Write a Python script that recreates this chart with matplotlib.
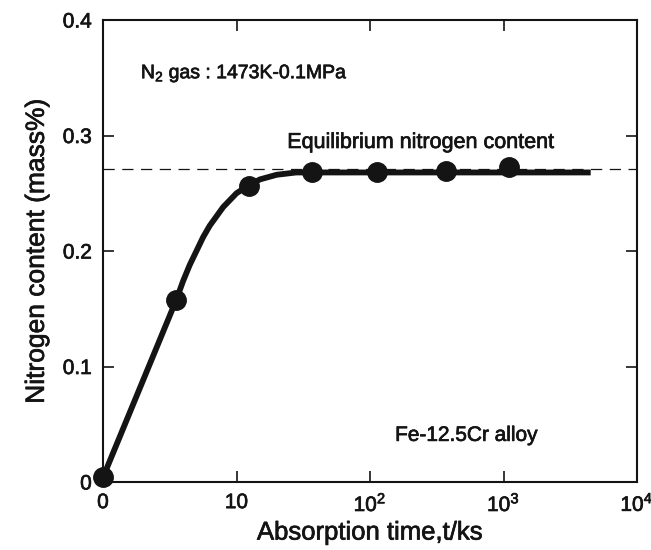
import numpy as np
import matplotlib
matplotlib.use("Agg")
import matplotlib.pyplot as plt
import matplotlib.patheffects as pe
from matplotlib.ticker import FixedLocator, FixedFormatter

plt.rcParams['font.family'] = ['Liberation Sans', 'DejaVu Sans']
plt.rcParams['mathtext.fontset'] = 'custom'
plt.rcParams['mathtext.rm'] = 'Liberation Sans'
plt.rcParams['mathtext.it'] = 'Liberation Sans'

# Measured points (absorption time in ks, nitrogen mass%)
time_pts = [0, 5.5, 12.4, 36.8, 113, 370, 1100]
n_pts = [0.004, 0.158, 0.256, 0.268, 0.268, 0.269, 0.273]

# Drawn fitted curve
curve_t = [0, 1, 2, 3, 4, 5, 5.5, 6, 6.5, 7, 7.5, 8, 8.5, 9, 9.5, 10,
           12.4, 15, 20, 28, 36.8, 60, 113, 370, 1100, 4500]
curve_n = [0.004, 0.032, 0.060, 0.088, 0.116, 0.144, 0.158, 0.174, 0.188,
           0.200, 0.212, 0.222, 0.230, 0.238, 0.244, 0.250,
           0.257, 0.262, 0.266, 0.268, 0.268, 0.268, 0.268, 0.268, 0.268, 0.268]

equilibrium = 0.271

x_ticks = [0, 10, 100, 1000, 10000]
x_ticklabels = ['0', '10', r'$10^2$', r'$10^3$', r'$10^4$']
y_ticks = [0, 0.1, 0.2, 0.3, 0.4]
y_ticklabels = ['0', '0.1', '0.2', '0.3', '0.4']


def forward(x):
    x = np.asarray(x, dtype=float)
    safe = np.where(x > 10, x, 10.0)
    return np.where(x <= 10, x / 10.0, 1 + np.log10(safe / 10.0))


def inverse(y):
    y = np.asarray(y, dtype=float)
    return np.where(y <= 1, y * 10.0, 10.0 ** np.where(y > 1, y, 1.0))


ink = '#141414'
heavy = [pe.withStroke(linewidth=0.5, foreground=ink)]

fig = plt.figure(figsize=(6.51, 5.5), dpi=100)
ax = fig.add_axes([103 / 651, 1 - 482 / 550, (637 - 103) / 651, (482 - 20) / 550])
ax.set_xscale('function', functions=(forward, inverse))
ax.set_xlim(0, 10000)
ax.set_ylim(0, 0.4)

ax.axhline(equilibrium, color=ink, lw=0.9, dashes=(9, 6), zorder=1)
ax.plot(curve_t, curve_n, color=ink, lw=4.2, solid_capstyle='butt',
        solid_joinstyle='round', zorder=2)
ax.plot(time_pts, n_pts, 'o', color=ink, ms=14, zorder=3, clip_on=False)

ax.xaxis.set_major_locator(FixedLocator(x_ticks))
ax.xaxis.set_major_formatter(FixedFormatter(x_ticklabels))
ax.xaxis.set_minor_locator(FixedLocator([]))
ax.yaxis.set_major_locator(FixedLocator(y_ticks))
ax.yaxis.set_major_formatter(FixedFormatter(y_ticklabels))

ax.tick_params(direction='in', length=8, width=1.2, top=True, right=True,
               labelsize=15, pad=8, colors=ink)
for s in ax.spines.values():
    s.set_linewidth(1.5)
    s.set_color(ink)

xl = ax.set_xlabel('Absorption time,t/ks', fontsize=18.5, color=ink, labelpad=4)
yl = ax.set_ylabel('Nitrogen content (mass%)', fontsize=19, color=ink, labelpad=10)

t1 = ax.text(0.071, 0.874, r'N$_2$ gas : 1473K-0.1MPa', transform=ax.transAxes,
             fontsize=14, color=ink, va='baseline', ha='left')
t2 = ax.text(0.345, 0.723, 'Equilibrium nitrogen content', transform=ax.transAxes,
             fontsize=15.5, color=ink, va='baseline', ha='left')
t3 = ax.text(0.547, 0.089, 'Fe-12.5Cr alloy', transform=ax.transAxes,
             fontsize=15, color=ink, va='baseline', ha='left')

for t in [xl, yl, t1, t2, t3] + ax.get_xticklabels() + ax.get_yticklabels():
    t.set_path_effects(heavy)

fig.savefig('out.png', dpi=100)
